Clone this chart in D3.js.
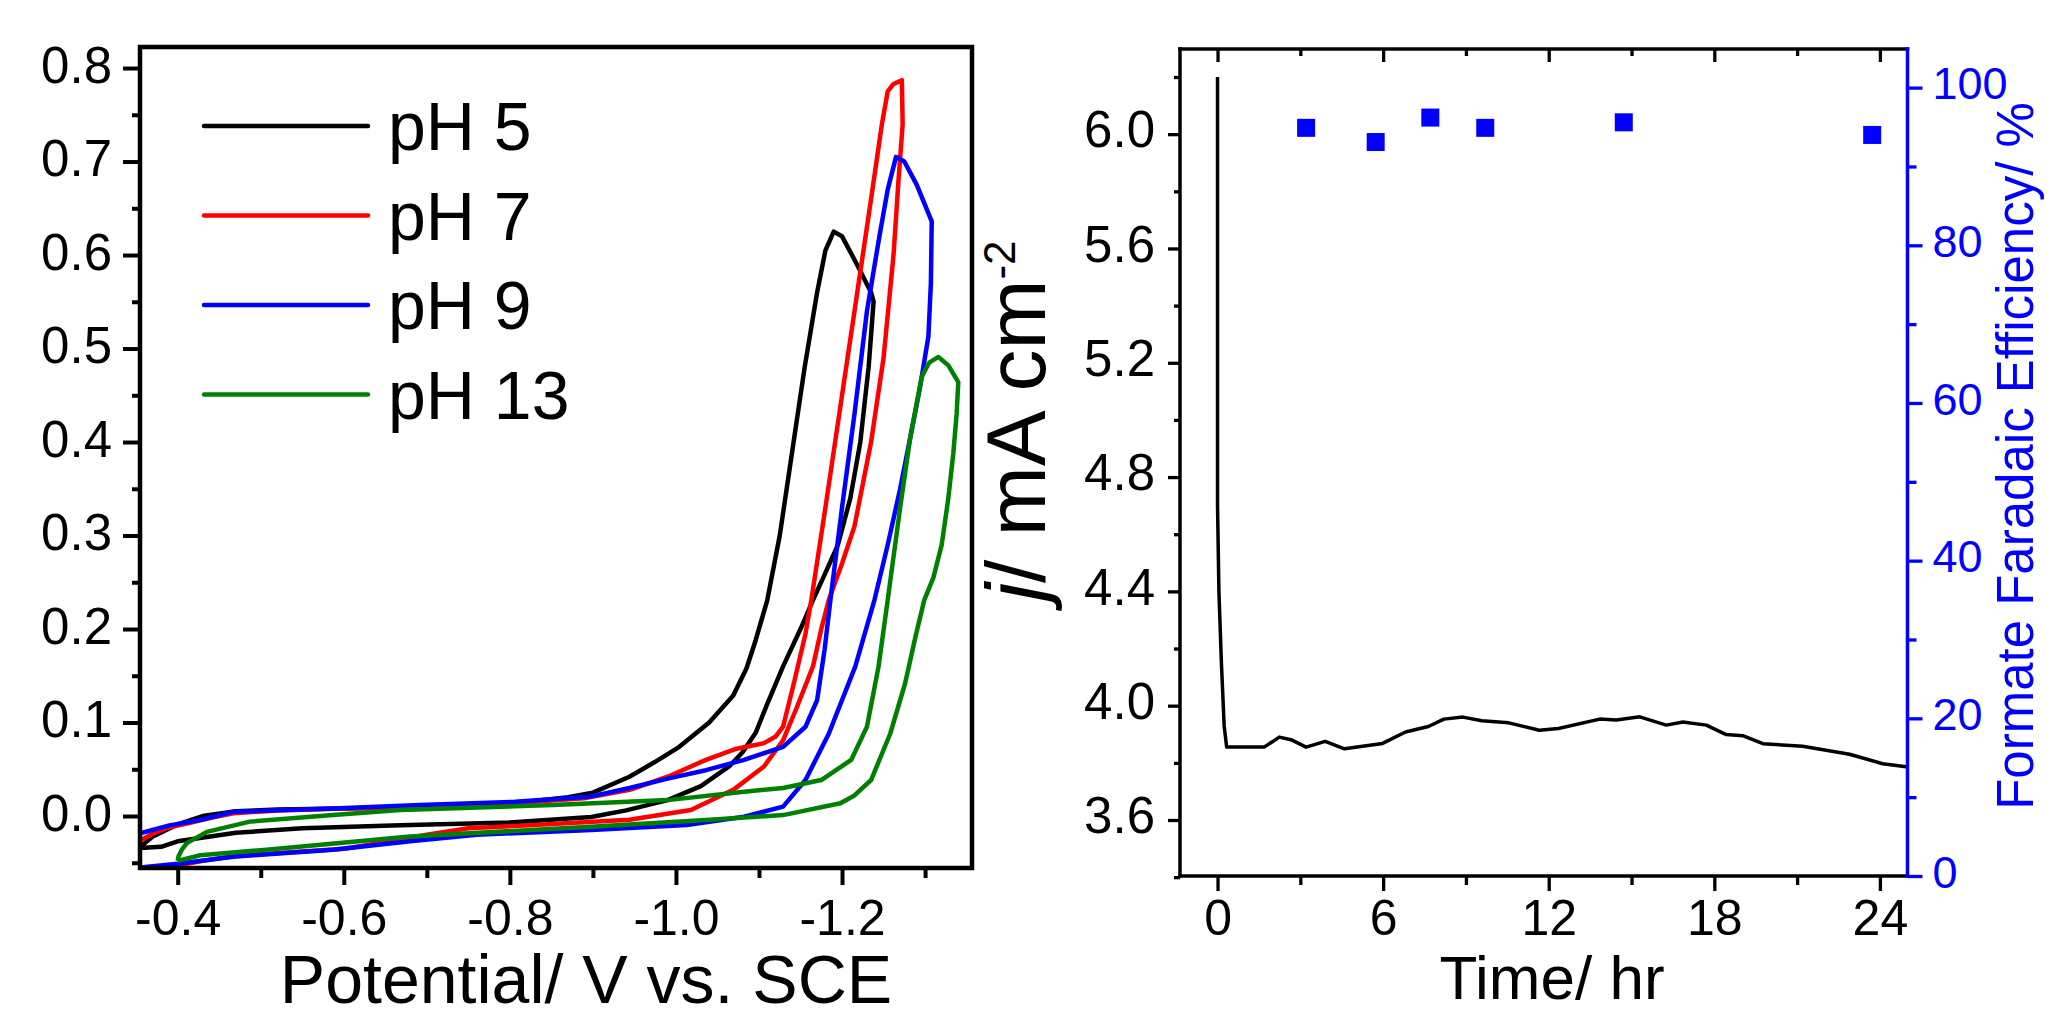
<!DOCTYPE html>
<html>
<head>
<meta charset="utf-8">
<script src="https://cdn.jsdelivr.net/npm/d3@7"></script>
<style>
  html, body { margin: 0; padding: 0; background: #ffffff; }
  svg text { font-family: "Liberation Sans", Arial, sans-serif; }
</style>
</head>
<body>
<div id="chart"></div>
<script>
/**--------------------------
 Data
 --------------------------*/
// CV curves, [potential V vs SCE, current]
const cvPH5 = [[-0.34,-0.035],[-0.355,-0.033],[-0.37,-0.022],[-0.40,-0.009],[-0.43,0.0],[-0.47,0.005],[-0.52,0.007],[-0.60,0.008],[-0.70,0.010],[-0.80,0.013],[-0.83,0.016],[-0.87,0.020],[-0.90,0.025],[-0.944,0.042],[-0.975,0.058],[-1.004,0.074],[-1.04,0.100],[-1.069,0.129],[-1.085,0.158],[-1.096,0.188],[-1.110,0.231],[-1.125,0.30],[-1.14,0.39],[-1.155,0.48],[-1.17,0.56],[-1.18,0.605],[-1.19,0.625],[-1.20,0.62],[-1.215,0.595],[-1.235,0.56],[-1.238,0.55],[-1.232,0.48],[-1.222,0.40],[-1.21,0.34],[-1.195,0.29],[-1.18,0.26],[-1.165,0.231],[-1.15,0.20],[-1.129,0.160],[-1.11,0.12],[-1.096,0.089],[-1.08,0.068],[-1.064,0.053],[-1.03,0.032],[-0.99,0.017],[-0.94,0.006],[-0.898,-0.001],[-0.80,-0.007],[-0.668,-0.010],[-0.55,-0.013],[-0.47,-0.018],[-0.40,-0.027],[-0.38,-0.033],[-0.34,-0.035]];
const cvPH7 = [[-0.34,-0.032],[-0.355,-0.026],[-0.37,-0.019],[-0.39,-0.012],[-0.411,-0.008],[-0.44,-0.002],[-0.467,0.003],[-0.52,0.006],[-0.60,0.008],[-0.70,0.010],[-0.80,0.013],[-0.829,0.0153],[-0.889,0.019],[-0.944,0.028],[-0.990,0.042],[-1.036,0.060],[-1.073,0.072],[-1.106,0.078],[-1.12,0.085],[-1.129,0.0955],[-1.142,0.142],[-1.156,0.195],[-1.163,0.231],[-1.18,0.33],[-1.20,0.45],[-1.22,0.57],[-1.235,0.66],[-1.248,0.74],[-1.255,0.775],[-1.262,0.783],[-1.272,0.787],[-1.273,0.74],[-1.268,0.68],[-1.262,0.60],[-1.25,0.49],[-1.235,0.40],[-1.215,0.31],[-1.20,0.27],[-1.184,0.231],[-1.175,0.20],[-1.165,0.160],[-1.145,0.115],[-1.129,0.081],[-1.106,0.053],[-1.069,0.028],[-1.018,0.0064],[-0.944,-0.004],[-0.829,-0.0096],[-0.75,-0.013],[-0.70,-0.020],[-0.65,-0.028],[-0.60,-0.035],[-0.55,-0.038],[-0.50,-0.041],[-0.467,-0.043],[-0.43,-0.048],[-0.394,-0.054],[-0.37,-0.060]];
const cvPH9 = [[-0.34,-0.025],[-0.355,-0.0185],[-0.39,-0.010],[-0.427,-0.0043],[-0.467,0.0046],[-0.587,0.008],[-0.692,0.0118],[-0.806,0.0153],[-0.898,0.021],[-0.944,0.030],[-0.990,0.040],[-1.036,0.049],[-1.082,0.060],[-1.129,0.074],[-1.156,0.0955],[-1.17,0.124],[-1.179,0.178],[-1.186,0.231],[-1.20,0.33],[-1.215,0.43],[-1.23,0.54],[-1.245,0.62],[-1.255,0.67],[-1.265,0.705],[-1.275,0.70],[-1.29,0.675],[-1.308,0.636],[-1.307,0.57],[-1.304,0.513],[-1.294,0.459],[-1.282,0.404],[-1.27,0.35],[-1.255,0.29],[-1.239,0.231],[-1.216,0.160],[-1.184,0.088],[-1.156,0.0385],[-1.129,0.010],[-1.082,-0.0007],[-1.013,-0.0096],[-0.898,-0.015],[-0.76,-0.020],[-0.68,-0.027],[-0.587,-0.036],[-0.467,-0.0435],[-0.40,-0.051],[-0.355,-0.055],[-0.34,-0.058]];
const cvPH13 = [[-0.40,-0.048],[-0.401,-0.043],[-0.405,-0.036],[-0.411,-0.029],[-0.435,-0.017],[-0.487,-0.006],[-0.587,0.001],[-0.668,0.0064],[-0.852,0.0118],[-0.99,0.017],[-1.082,0.026],[-1.129,0.030],[-1.175,0.0385],[-1.211,0.060],[-1.23,0.0955],[-1.244,0.160],[-1.255,0.231],[-1.27,0.33],[-1.282,0.404],[-1.296,0.47],[-1.305,0.485],[-1.316,0.491],[-1.328,0.482],[-1.34,0.464],[-1.338,0.43],[-1.334,0.388],[-1.328,0.34],[-1.32,0.29],[-1.31,0.255],[-1.299,0.231],[-1.288,0.19],[-1.276,0.142],[-1.258,0.088],[-1.235,0.0385],[-1.215,0.022],[-1.198,0.0136],[-1.129,0.001],[-1.036,-0.0043],[-0.898,-0.0114],[-0.68,-0.022],[-0.507,-0.036],[-0.427,-0.042],[-0.40,-0.048]];

const seriesLabels = ["pH 5", "pH 7", "pH 9", "pH 13"];
const seriesColors = ["#000000", "#ff0000", "#0000ff", "#008000"];

const potentialTicks = [-0.4, -0.6, -0.8, -1.0, -1.2];
const potentialMinor = [-0.5, -0.7, -0.9, -1.1, -1.3];
const currentTicks = [0.0, 0.1, 0.2, 0.3, 0.4, 0.5, 0.6, 0.7, 0.8];
const currentMinor = [-0.05, 0.05, 0.15, 0.25, 0.35, 0.45, 0.55, 0.65, 0.75];

// chronoamperometry + faradaic efficiency
const chronoTime = [0, 0, 0.05, 0.14, 0.24, 0.33, 1.69, 2.24, 2.66, 3.21, 3.90, 4.60, 5.98, 6.81, 7.64, 8.2, 8.89, 9.58, 10.55, 11.66, 12.35, 13.85, 14.45, 15.3, 16.26, 16.86, 17.71, 18.43, 19.03, 19.76, 21.2, 22.9, 24.1, 24.95];
const chronoJ = [6.2, 4.7, 4.4, 4.15, 3.93, 3.855, 3.855, 3.89, 3.881, 3.855, 3.875, 3.849, 3.868, 3.908, 3.927, 3.953, 3.96, 3.947, 3.94, 3.914, 3.92, 3.953, 3.95, 3.961, 3.932, 3.943, 3.932, 3.899, 3.895, 3.867, 3.858, 3.83, 3.797, 3.786];
const feTime = [3.21, 5.73, 7.71, 9.70, 14.72, 23.72];
const feValue = [94.9, 93.1, 96.2, 94.9, 95.6, 94.0];

const timeTicks = [0, 6, 12, 18, 24];
const timeMinor = [3, 9, 15, 21];
const jTicks = [3.6, 4.0, 4.4, 4.8, 5.2, 5.6, 6.0];
const jMinor = [3.4, 3.8, 4.2, 4.6, 5.0, 5.4, 5.8, 6.2];
const feTicks = [0, 20, 40, 60, 80, 100];
const feMinor = [10, 30, 50, 70, 90];

/**--------------------------
 Setup
 --------------------------*/
const width = 2047, height = 1017;
const svg = d3.select("#chart").append("svg")
    .attr("width", width)
    .attr("height", height);

// make an axis in its own group, ticks only (frame drawn separately)
function drawAxis(axis, tx, ty, opts) {
    const g = svg.append("g").attr("transform", `translate(${tx},${ty})`).call(axis);
    g.select(".domain").remove();
    g.selectAll(".tick line").attr("stroke", opts.color).attr("stroke-width", opts.sw);
    g.selectAll(".tick text")
        .attr("fill", opts.color)
        .attr("font-size", opts.fs)
        .attr("font-family", '"Liberation Sans", Arial, sans-serif');
    g.attr("font-size", null).attr("font-family", null);
    return g;
}
const fmt1 = d => d.toFixed(1);

/**--------------------------
 Left panel : CV
 --------------------------*/
const L = { left: 140, right: 972, top: 47, bottom: 868 };
const xCV = d3.scaleLinear().domain([-0.3546, -1.3565]).range([L.left, L.right]);
const yCV = d3.scaleLinear().domain([-0.0556, 0.8225]).range([L.bottom, L.top]);

svg.append("clipPath").attr("id", "clipCV")
    .append("rect")
    .attr("x", L.left).attr("y", L.top)
    .attr("width", L.right - L.left).attr("height", L.bottom - L.top);

const cvLine = d3.line().x(d => xCV(d[0])).y(d => yCV(d[1]));

svg.append("g")
    .attr("clip-path", "url(#clipCV)")
    .selectAll("path")
    .data([cvPH5, cvPH7, cvPH9, cvPH13])
    .enter()
    .append("path")
    .attr("d", cvLine)
    .attr("fill", "none")
    .attr("stroke", (d, i) => seriesColors[i])
    .attr("stroke-width", 4.5)
    .attr("stroke-linejoin", "round");

// axes
drawAxis(d3.axisLeft(yCV).tickValues(currentMinor).tickSize(8).tickFormat(""), L.left, 0, { color: "#000", sw: 4, fs: 51 });
const gYL = drawAxis(d3.axisLeft(yCV).tickValues(currentTicks).tickSize(17).tickPadding(11).tickFormat(fmt1), L.left, 0, { color: "#000", sw: 4, fs: 51 });
gYL.selectAll(".tick text").attr("dy", "0.28em");

drawAxis(d3.axisBottom(xCV).tickValues(potentialMinor).tickSize(10).tickFormat(""), 0, L.bottom, { color: "#000", sw: 4, fs: 50 });
const gXL = drawAxis(d3.axisBottom(xCV).tickValues(potentialTicks).tickSize(17).tickFormat(fmt1), 0, L.bottom, { color: "#000", sw: 4, fs: 50 });
gXL.selectAll(".tick text").attr("y", 67).attr("dy", null);

// frame
svg.append("rect")
    .attr("x", L.left).attr("y", L.top)
    .attr("width", L.right - L.left).attr("height", L.bottom - L.top)
    .attr("fill", "none").attr("stroke", "#000").attr("stroke-width", 4.5);

// legend
const legend = svg.append("g").selectAll("g")
    .data(seriesLabels)
    .enter()
    .append("g")
    .attr("transform", (d, i) => `translate(0,${126 + i * 89.5})`);
legend.append("line")
    .attr("x1", 204).attr("x2", 368)
    .attr("stroke", (d, i) => seriesColors[i])
    .attr("stroke-width", 4.5)
    .attr("stroke-linecap", "round");
legend.append("text")
    .attr("x", 388).attr("y", 24)
    .attr("font-size", 68)
    .text(d => d);

svg.append("text")
    .attr("x", 586).attr("y", 1003)
    .attr("text-anchor", "middle")
    .attr("font-size", 68)
    .text("Potential/ V vs. SCE");

/**--------------------------
 Right panel : stability
 --------------------------*/
const R = { left: 1180, right: 1907.5, top: 49, bottom: 876 };
const xT = d3.scaleLinear().domain([-1.36, 25.0]).range([R.left, R.right]);
const yJ = d3.scaleLinear().domain([3.404, 6.298]).range([R.bottom, R.top]);
const yFE = d3.scaleLinear().domain([0, 104.9]).range([R.bottom, R.top]);

svg.append("clipPath").attr("id", "clipT")
    .append("rect")
    .attr("x", R.left).attr("y", R.top)
    .attr("width", R.right - R.left).attr("height", R.bottom - R.top);

const chrono = chronoTime.map((t, i) => [t, chronoJ[i]]);
svg.append("path")
    .datum(chrono)
    .attr("clip-path", "url(#clipT)")
    .attr("d", d3.line().x(d => xT(d[0])).y(d => yJ(d[1])))
    .attr("fill", "none")
    .attr("stroke", "#000")
    .attr("stroke-width", 3.5)
    .attr("stroke-linejoin", "round");

const fe = feTime.map((t, i) => [t, feValue[i]]);
svg.append("g").selectAll("rect")
    .data(fe)
    .enter()
    .append("rect")
    .attr("x", d => xT(d[0]) - 9)
    .attr("y", d => yFE(d[1]) - 9)
    .attr("width", 18).attr("height", 18)
    .attr("fill", "#0000ff");

// left j axis
drawAxis(d3.axisLeft(yJ).tickValues(jMinor).tickSize(6).tickFormat(""), R.left, 0, { color: "#000", sw: 3.3, fs: 50 });
const gYJ = drawAxis(d3.axisLeft(yJ).tickValues(jTicks).tickSize(12).tickPadding(13).tickFormat(fmt1), R.left, 0, { color: "#000", sw: 3.3, fs: 51 });
gYJ.selectAll(".tick text").attr("dy", "0.25em");

// bottom time axis
drawAxis(d3.axisBottom(xT).tickValues(timeMinor).tickSize(9).tickFormat(""), 0, R.bottom, { color: "#000", sw: 3.3, fs: 50 });
const gXT = drawAxis(d3.axisBottom(xT).tickValues(timeTicks).tickSize(15).tickFormat(d3.format("d")), 0, R.bottom, { color: "#000", sw: 3.3, fs: 50 });
gXT.selectAll(".tick text").attr("y", 59).attr("dy", null);

// top ticks (inward)
drawAxis(d3.axisTop(xT).tickValues(timeMinor).tickSize(-7).tickFormat(""), 0, R.top, { color: "#000", sw: 3.3, fs: 50 });
drawAxis(d3.axisTop(xT).tickValues(timeTicks).tickSize(-13).tickFormat(""), 0, R.top, { color: "#000", sw: 3.3, fs: 50 });

// right FE axis
drawAxis(d3.axisRight(yFE).tickValues(feMinor).tickSize(9).tickFormat(""), R.right, 0, { color: "#0000ff", sw: 3.3, fs: 45 });
const gFE = drawAxis(d3.axisRight(yFE).tickValues(feTicks).tickSize(15).tickPadding(10).tickFormat(d3.format("d")), R.right, 0, { color: "#0000ff", sw: 3.3, fs: 45 });
gFE.selectAll(".tick text").attr("dy", "0.25em");

// frame: black on three sides, blue on the right
const frame = svg.append("g").attr("stroke-width", 3.5).attr("stroke-linecap", "square");
frame.append("line").attr("x1", R.left).attr("x2", R.right).attr("y1", R.top).attr("y2", R.top).attr("stroke", "#000");
frame.append("line").attr("x1", R.left).attr("x2", R.right).attr("y1", R.bottom).attr("y2", R.bottom).attr("stroke", "#000");
frame.append("line").attr("x1", R.left).attr("x2", R.left).attr("y1", R.top).attr("y2", R.bottom).attr("stroke", "#000");
frame.append("line").attr("x1", R.right).attr("x2", R.right).attr("y1", R.top).attr("y2", R.bottom).attr("stroke", "#0000ff");

// titles
svg.append("text")
    .attr("x", 1552).attr("y", 999)
    .attr("text-anchor", "middle")
    .attr("font-size", 62)
    .text("Time/ hr");

const jLabel = svg.append("text")
    .attr("transform", "translate(1045,421) rotate(-90)")
    .attr("text-anchor", "middle")
    .attr("font-size", 84);
jLabel.append("tspan").attr("font-style", "italic").text("j");
jLabel.append("tspan").text("/ mA cm");
jLabel.append("tspan").attr("font-size", 44).attr("dy", -30).text("-2");

svg.append("text")
    .attr("transform", "translate(2033,456) rotate(-90)")
    .attr("text-anchor", "middle")
    .attr("font-size", 51)
    .attr("fill", "#0000ff")
    .text("Formate Faradaic Efficiency/ %");
</script>
</body>
</html>
